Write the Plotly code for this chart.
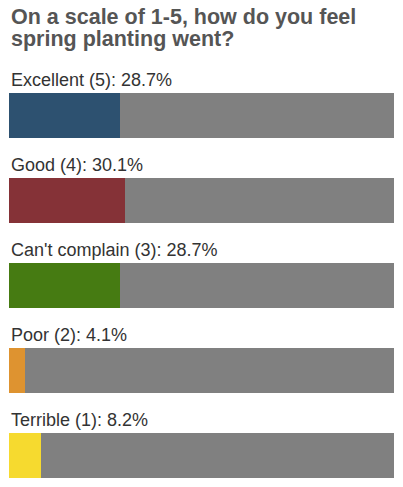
import plotly.graph_objects as go

categories = ["Excellent (5)", "Good (4)", "Can't complain (3)", "Poor (2)", "Terrible (1)"]
values = [28.7, 30.1, 28.7, 4.1, 8.2]
colors = ["#2d5170", "#853237", "#467b12", "#de9330", "#f6da2f"]
title_lines = ["On a scale of 1-5, how do you feel", "spring planting went?"]

W, H = 403, 487
positions = list(range(len(categories)))
FONT = "Liberation Sans, Arial, Helvetica, sans-serif"
TOP = 115.5   # centre of first bar in pixels
STEP = 85     # pixels per category slot

fig = go.Figure()
fig.add_trace(go.Bar(
    y=positions, x=[100] * len(categories), orientation="h",
    marker=dict(color="#808080", line=dict(width=0)), width=0.53,
    hoverinfo="skip", showlegend=False,
))
fig.add_trace(go.Bar(
    y=positions, x=values, orientation="h",
    marker=dict(color=colors, line=dict(width=0)), width=0.53,
    hoverinfo="skip", showlegend=False,
))

annotations = []
for p, c, v in zip(positions, categories, values):
    annotations.append(dict(
        x=0, y=p - 0.418, xref="x", yref="y", xanchor="left", yanchor="middle",
        text=f"{c}: {v}%", showarrow=False,
        font=dict(family=FONT, size=18, color="#333333"),
    ))
for i, line in enumerate(title_lines):
    annotations.append(dict(
        x=0, y=1 - (17 + 22 * i) / H, xref="paper", yref="paper",
        xanchor="left", yanchor="middle", text=f"<b>{line}</b>", showarrow=False,
        font=dict(family=FONT, size=21.5, color="#555555"),
    ))

fig.update_layout(
    width=W, height=H, autosize=False,
    margin=dict(l=9, r=9, t=0, b=0, pad=0),
    barmode="overlay", bargap=0,
    paper_bgcolor="white", plot_bgcolor="white",
    xaxis=dict(range=[0, 100], visible=False, fixedrange=True),
    yaxis=dict(range=[(H - TOP) / STEP, -TOP / STEP], visible=False, fixedrange=True),
    annotations=annotations,
)
fig.write_html(
    "out.html",
    config={"displayModeBar": False},
    post_script="document.body.style.margin='0';",
)
